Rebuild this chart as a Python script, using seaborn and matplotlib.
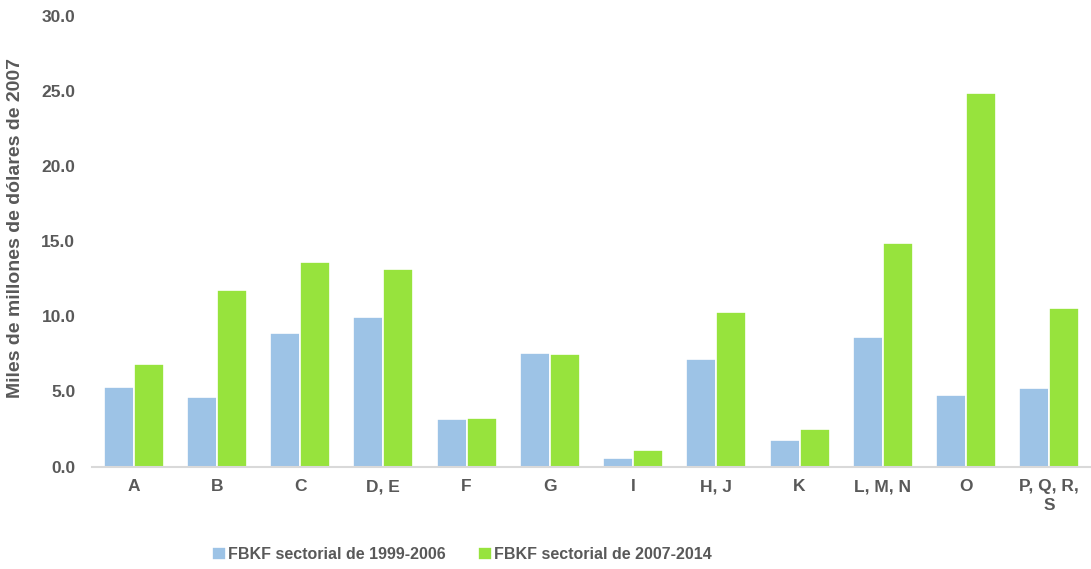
import pandas as pd
import matplotlib.pyplot as plt
import seaborn as sns

# Sectores y valores (miles de millones de dólares de 2007)
sectores = ["A", "B", "C", "D, E", "F", "G", "I", "H, J", "K",
            "L, M, N", "O", "P, Q, R,\nS"]
fbkf_1999_2006 = [5.32, 4.60, 8.91, 9.96, 3.20, 7.53, 0.56, 7.15, 1.78, 8.60, 4.78, 5.25]
fbkf_2007_2014 = [6.83, 11.77, 13.65, 13.18, 3.25, 7.51, 1.13, 10.27, 2.51, 14.90, 24.90, 10.55]
periodos = ["FBKF sectorial de 1999-2006", "FBKF sectorial de 2007-2014"]
colores = ["#9dc3e6", "#97e33d"]
y_ticks = [0, 5, 10, 15, 20, 25, 30]

TEXT = "#595959"

df = pd.DataFrame({
    "sector": sectores * 2,
    "valor": fbkf_1999_2006 + fbkf_2007_2014,
    "periodo": [periodos[0]] * len(sectores) + [periodos[1]] * len(sectores),
})

sns.set_theme(style="white")
plt.rcParams["font.family"] = ["Liberation Sans", "DejaVu Sans"]

fig = plt.figure(figsize=(10.91, 5.69), dpi=100)
ax = fig.add_axes([0.0843, 0.18, 0.9157, 0.792])

sns.barplot(data=df, x="sector", y="valor", hue="periodo", palette=colores,
            width=0.72, edgecolor="white", linewidth=1.2, saturation=1, ax=ax)

ax.set_ylim(0, 30)
ax.set_xlim(-0.5, len(sectores) - 0.5)
ax.set_yticks(y_ticks)
ax.set_yticklabels([f"{v:.1f}" for v in y_ticks], fontsize=12.5, fontweight="bold", color=TEXT)
ax.set_xticks(range(len(sectores)))
ax.set_xticklabels(sectores, fontsize=12.5, fontweight="bold", color=TEXT)
for lbl in ax.get_xticklabels():
    lbl.set_linespacing(1.3)
ax.tick_params(axis="x", length=0, pad=9)
ax.tick_params(axis="y", length=0, pad=12)

ax.set_xlabel("")
ax.set_ylabel("Miles de millones de dólares de 2007", fontsize=14, fontweight="bold",
              color=TEXT)
ax.yaxis.set_label_coords(-0.068, 0.53)

for side in ["top", "right", "left"]:
    ax.spines[side].set_visible(False)
ax.spines["bottom"].set_color("#d9d9d9")
ax.spines["bottom"].set_linewidth(1.5)

ax.legend(loc="center", bbox_to_anchor=(0.4235, 0.026), bbox_transform=fig.transFigure,
          ncol=2, frameon=False, handlelength=0.85, handleheight=0.95, handletextpad=0.15,
          columnspacing=2.0, prop={"weight": "bold", "size": 11.5}, labelcolor=TEXT)

fig.savefig("out.png", dpi=100)
